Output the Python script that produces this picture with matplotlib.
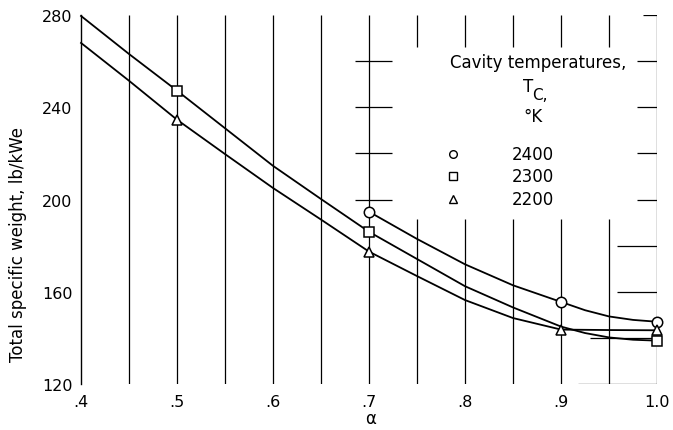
import matplotlib
matplotlib.use("Agg")
import matplotlib.pyplot as plt

plt.rcParams['font.family'] = ['DejaVu Sans']

# measured points (markers) for each cavity temperature, K
temps = ["2400", "2300", "2200"]
markers = ["o", "s", "^"]

alpha_2400 = [0.7, 0.9, 1.0]
weight_2400 = [194.7, 155.6, 147.0]
alpha_2300 = [0.5, 0.7, 1.0]
weight_2300 = [247.2, 186.0, 138.8]
alpha_2200 = [0.5, 0.7, 0.9, 1.0]
weight_2200 = [234.6, 177.4, 143.6, 143.3]

# faired curves, read along the alpha grid
curve_alpha_2400 = [0.7, 0.75, 0.8, 0.85, 0.9, 0.925, 0.95, 0.975, 1.0]
curve_weight_2400 = [194.7, 182.9, 171.9, 162.8, 155.6, 152.0, 149.3, 147.8, 147.0]
curve_alpha_2300 = [0.4, 0.45, 0.5, 0.55, 0.6, 0.65, 0.7, 0.75, 0.8, 0.85, 0.9,
                    0.925, 0.95, 0.975, 1.0]
curve_weight_2300 = [279.6, 263.1, 247.2, 230.9, 214.6, 200.2, 186.0, 174.2, 162.4,
                     153.2, 144.9, 142.1, 140.2, 139.2, 138.8]
curve_alpha_2200 = [0.4, 0.45, 0.5, 0.55, 0.6, 0.65, 0.7, 0.75, 0.8, 0.85, 0.9, 0.95, 1.0]
curve_weight_2200 = [267.9, 251.5, 234.6, 219.7, 205.0, 191.3, 177.4, 166.8, 156.4,
                     148.6, 143.6, 143.4, 143.3]

xticks = [0.4, 0.5, 0.6, 0.7, 0.8, 0.9, 1.0]
xtick_labels = [".4", ".5", ".6", ".7", ".8", ".9", "1.0"]
yticks = [120, 160, 200, 240, 280]

fig = plt.figure(figsize=(6.73, 4.31), dpi=100)
ax = fig.add_axes([0.1204, 0.1067, 0.8559, 0.8561])
ax.set_xlim(0.4, 1.0)
ax.set_ylim(120, 280)

# graph-paper lines: verticals every 0.05, broken behind the key
lw_grid = 0.9
for i in range(1, 13):
    x = 0.4 + 0.05 * i
    if 0.74 < x < 0.96:
        ax.vlines(x, 120, 191.5, color='k', lw=lw_grid)
        ax.vlines(x, 266.1, 280, color='k', lw=lw_grid)
    else:
        ax.vlines(x, 120, 280, color='k', lw=lw_grid)

# short horizontal rules
for y in [200, 220, 240, 260]:
    ax.hlines(y, 0.685, 0.724, color='k', lw=lw_grid)
    ax.hlines(y, 0.979, 1.0, color='k', lw=lw_grid)
for y, x0 in [(180, 0.958), (160, 0.958), (140, 0.93), (120, 0.918), (280, 0.985)]:
    ax.hlines(y, x0, 1.0, color='k', lw=lw_grid)

# curves and points
curves = [(curve_alpha_2400, curve_weight_2400, alpha_2400, weight_2400),
          (curve_alpha_2300, curve_weight_2300, alpha_2300, weight_2300),
          (curve_alpha_2200, curve_weight_2200, alpha_2200, weight_2200)]
for (cx, cy, px, py), m in zip(curves, markers):
    ax.plot(cx, cy, color='k', lw=1.3, zorder=3, clip_on=False)
    ms = 6.5 if m == "s" else 7.5
    ax.plot(px, py, linestyle='none', marker=m, ms=ms, mfc='white', mec='k',
            mew=1.1, zorder=4, clip_on=False)

# key
fs = 12
ax.text(0.793, 0.873, "Cavity temperatures,", transform=ax.transAxes,
        ha='center', va='center', fontsize=fs)
ax.text(0.776, 0.808, "T", transform=ax.transAxes, ha='center', va='center', fontsize=fs)
ax.text(0.783, 0.785, "C,", transform=ax.transAxes, ha='left', va='center', fontsize=fs - 1)
ax.text(0.785, 0.726, "\u00b0K", transform=ax.transAxes, ha='center', va='center', fontsize=fs)
key_rows = [0.623, 0.564, 0.501]
for t, m, yk in zip(temps, markers, key_rows):
    ax.plot([0.646], [yk], transform=ax.transAxes, linestyle='none', marker=m,
            ms=5.5, mfc='white', mec='k', mew=1.0)
    ax.text(0.785, yk, t, transform=ax.transAxes, ha='center', va='center', fontsize=fs)

# axes
for s in ['top', 'right', 'bottom']:
    ax.spines[s].set_visible(False)
ax.spines['left'].set_linewidth(1.0)
ax.set_xticks(xticks)
ax.set_xticklabels(xtick_labels)
ax.set_yticks(yticks)
ax.tick_params(length=0, labelsize=11.5)
ax.tick_params(axis='x', pad=7)
ax.tick_params(axis='y', pad=6)
ax.set_xlabel("\u03b1", fontsize=fs, va='center')
ax.xaxis.set_label_coords(0.502, -0.092)
ax.set_ylabel("Total specific weight, lb/kWe", fontsize=fs)
ax.yaxis.set_label_coords(-0.094, 0.38)

fig.savefig("out.png", dpi=100)
